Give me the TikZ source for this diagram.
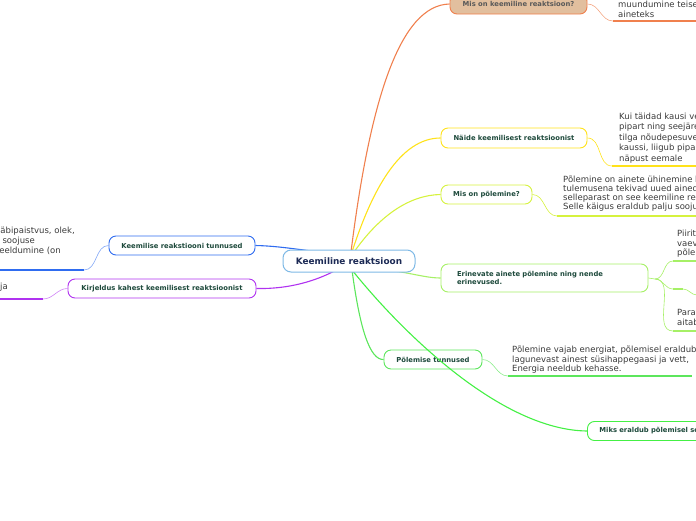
\documentclass[tikz,border=0pt]{standalone}
\usepackage{fontspec}
\setmainfont{DejaVu Sans}
\newfontfamily\bodyfont{DejaVu Sans}
\definecolor{corange}{HTML}{F0804E}
\definecolor{ctan}{HTML}{E2BF9E}
\definecolor{cyellow}{HTML}{FFE21A}
\definecolor{cyg}{HTML}{D6F23E}
\definecolor{clg}{HTML}{A6F066}
\definecolor{cgreen}{HTML}{5CE65C}
\definecolor{cgreen2}{HTML}{44F044}
\definecolor{cblue}{HTML}{2F6CF0}
\definecolor{cpurple}{HTML}{B032F0}
\definecolor{ccentral}{HTML}{7EB9E6}
\definecolor{labelc}{HTML}{1E4A3C}
\definecolor{bodyc}{HTML}{3A3A3A}
\definecolor{centc}{HTML}{1C2A55}
\begin{document}
\begin{tikzpicture}[x=1pt,y=-1pt,
  branch/.style={draw=#1, line width=0.9pt, rounded corners=7pt, fill=white,
    font=\bfseries\fontsize{6.8}{8.4}\selectfont, text=labelc, inner sep=0pt, minimum height=19pt},
  main/.style={draw=#1, line width=1.1pt},
  sub/.style={draw=#1, line width=0.6pt},
  uline/.style={draw=#1, line width=1.6pt},
  body/.style={font=\bodyfont\fontsize{8.5}{#1}\selectfont, text=bodyc, inner sep=0pt, align=left, anchor=base west},
  lbody/.style={font=\bodyfont\fontsize{8.5}{9.5}\selectfont, text=bodyc, inner sep=0pt, anchor=base east}
]
\useasboundingbox (0,0) rectangle (696,520);
\clip (0,0) rectangle (696,520);

% connector start points (behind the central node)
\coordinate (s0) at (351,252);
\coordinate (s1) at (352,252);
\coordinate (s2) at (354,252);
\coordinate (s3) at (352,268);
\coordinate (s4) at (352,270);
\coordinate (s5) at (352,270);
\coordinate (s6) at (345,255);
\coordinate (s7) at (340,268);

% branch nodes
\node[branch=corange, fill=ctan, text=black!65, minimum width=137pt, minimum height=20pt] (n0) at (518.5,4) {Mis on keemiline reaktsioon?};
\node[branch=cyellow, minimum width=146pt, minimum height=20pt] (n1) at (514,138) {Näide keemilisest reaktsioonist};
\node[branch=cyg, minimum width=91pt] (n2) at (486.5,194.5) {Mis on põlemine?};
\node[branch=clg, text width=175pt, inner xsep=16pt, align=left, minimum height=28pt] (n3) at (544.5,278) {Erinevate ainete põlemine ning nende\\erinevused.};
\node[branch=cgreen, minimum width=98pt] (n4) at (433,359.5) {Põlemise tunnused};
\node[branch=cgreen2, minimum width=200pt, anchor=west, align=left, text width=190pt, inner xsep=5pt] (n5) at (587,431) {\hspace*{7pt}Miks eraldub põlemisel soojust?};
\node[branch=cblue, minimum width=146pt] (n6) at (182,245.5) {Keemilise reakstiooni tunnused};
\node[branch=cpurple, minimum width=188pt] (n7) at (162,288.5) {Kirjeldus kahest keemilisest reaktsioonist};

% main connectors
\draw[main=corange] (s0) .. controls (370,100) and (400,5) .. (n0.west);
\draw[main=cyellow] (s1) .. controls (372,190) and (400,138) .. (n1.west);
\draw[main=cyg] (s2) .. controls (380,215) and (410,195) .. (n2.west);
\draw[main=clg] (s3) .. controls (400,268) and (420,278) .. (n3.west);
\draw[main=cgreen] (s4) .. controls (360,330) and (370,360) .. (n4.west);
\draw[main=cgreen2] (s5) .. controls (400,330) and (500,430) .. (n5.west);
\draw[main=cblue] (s6) .. controls (300,250) and (280,246) .. (n6.east);
\draw[main=cpurple] (s7) .. controls (310,285) and (280,289) .. (n7.east);

% central node
\node[draw=ccentral, line width=1pt, rounded corners=8pt, fill=white, minimum width=132pt, minimum height=22pt, inner sep=0pt,
  font=\bfseries\fontsize{8.9}{10}\selectfont, text=centc] (c) at (349,261) {Keemiline reaktsioon};

% underline coordinates
\coordinate (u0a) at (613,21);  \coordinate (u0b) at (696,21);
\coordinate (u1a) at (612,166); \coordinate (u1b) at (696,166);
\coordinate (u2a) at (557,216); \coordinate (u2b) at (696,216);
\coordinate (j3) at (655,279);
\coordinate (u3a) at (673,261); \coordinate (u3b) at (696,261);
\coordinate (u3c) at (673,289); \coordinate (u3d) at (683,289); \coordinate (u3e) at (697,295);
\coordinate (u3f) at (673,331); \coordinate (u3g) at (696,331);
\coordinate (u4a) at (508,376); \coordinate (u4b) at (692,376);
\coordinate (u6a) at (84,270);  \coordinate (u6b) at (0,270);
\coordinate (u7a) at (43,299);  \coordinate (u7b) at (0,299);

% sub connectors
\draw[sub=corange!70] (n0.east) to[out=0,in=180] (u0a);
\draw[uline=corange] (u0a) -- (u0b);
\draw[sub=cyellow] (n1.east) to[out=0,in=180] (u1a);
\draw[uline=cyellow] (u1a) -- (u1b);
\draw[sub=cyg] (n2.east) to[out=0,in=180] (u2a);
\draw[uline=cyg] (u2a) -- (u2b);
\draw[sub=clg] (n3.east) -- (j3);
\draw[sub=clg] (j3) to[out=0,in=180] (u3a);
\draw[uline=clg] (u3a) -- (u3b);
\draw[sub=clg] (j3) to[out=0,in=180] (u3c);
\draw[uline=clg] (u3c) -- (u3d);
\draw[sub=clg] (u3d) to[out=0,in=180] (u3e);
\draw[sub=clg] (j3) to[out=0,in=180] (u3f);
\draw[uline=clg] (u3f) -- (u3g);
\draw[sub=cgreen!70] (n4.east) to[out=0,in=180] (u4a);
\draw[uline=cgreen] (u4a) -- (u4b);
\draw[sub=cblue!60] (n6.west) to[out=180,in=0] (u6a);
\draw[uline=cblue] (u6a) -- (u6b);
\draw[sub=cpurple!60] (n7.west) to[out=180,in=0] (u7a);
\draw[uline=cpurple] (u7a) -- (u7b);

% body texts (anchored at the baseline of their last line)
\node[body=9.5] (t0) at (618,17) {muundumine teiseks\\aineteks};
\node[body=10.4] (t1) at (619,161) {Kui täidad kausi veega\\pipart ning seejärel\\tilga nõudepesuvedelikku\\kaussi, liigub pipar\\näpust eemale};
\node[body=9] (t2) at (563,209.5) {Põlemine on ainete ühinemine hapnikuga,\\tulemusena tekivad uued ained,\\selleparast on see keemiline reaktsioon.\\Selle käigus eraldub palju soojust};
\node[body=9.5] (t3) at (677,255.5) {Piiritus\\vaevu\\põleng};
\node[body=10] (t4) at (677,325.5) {Parafiin\\aitab};
\node[body=9.5] (t5) at (512,371.5) {Põlemine vajab energiat, põlemisel eraldub\\lagunevast ainest süsihappegaasi ja vett,\\Energia neeldub kehasse.};
\node[lbody] (t6) at (75,233) {Värvus, läbipaistvus, olek,};
\node[lbody] (t7) at (35,243) {valguse, soojuse};
\node[lbody] (t8) at (61,253.5) {eraldumine või neeldumine (on};
\node[lbody] (t9) at (8,289.5) {ja};
\end{tikzpicture}
\end{document}
